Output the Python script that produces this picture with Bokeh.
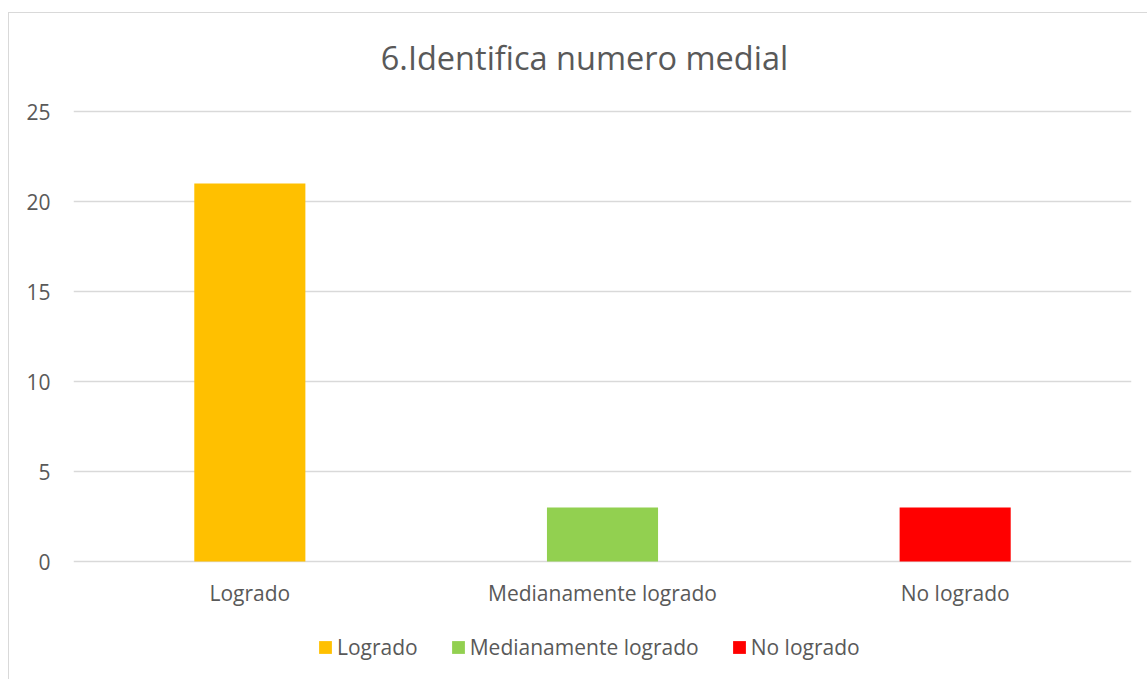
from bokeh.plotting import figure
from bokeh.models import Range1d, FixedTicker, ColumnDataSource, Legend, LegendItem
from bokeh.core.properties import value
from bokeh.embed import file_html
from bokeh.resources import INLINE

title_text = "6.Identifica numero medial"
categories = ["Logrado", "Medianamente logrado", "No logrado"]
values = [21, 3, 3]
colors = ["#FFC000", "#92D050", "#FF0000"]
y_ticks = [0, 5, 10, 15, 20, 25]

FONT = "Open Sans"
TXT = "#595959"
GRID = "#d9d9d9"

src = ColumnDataSource(dict(cat=categories, val=values, color=colors,
                            base=[0] * len(categories)))

PX_PER_UNIT = 18.0
TOP_SPACE = 98      # px of frame above the top tick (title area)
BOTTOM_SPACE = 118  # px of frame below the zero line (labels + legend)

y_max = max(y_ticks)
p = figure(
    x_range=categories,
    y_range=Range1d(-BOTTOM_SPACE / PX_PER_UNIT, y_max + TOP_SPACE / PX_PER_UNIT),
    frame_width=1058,
    frame_height=666,
    min_border_left=64,
    min_border_right=16,
    min_border_top=0,
    min_border_bottom=0,
    output_backend="svg",
    toolbar_location=None,
)
p.margin = (12, 0, 0, 8)
p.styles = {"border-left": "1px solid #d9d9d9", "border-top": "1px solid #d9d9d9"}

r = p.vbar(x="cat", top="val", width=0.315, color="color", line_color=None, source=src)

# category labels under the bars
p.text(x="cat", y="base", text="cat", source=src, y_offset=31,
       text_align="center", text_baseline="middle",
       text_font=value(FONT), text_font_size="21px", text_color=TXT)

# chart title above the plot area
p.text(x=[categories[1]], y=[y_max], text=[title_text], x_offset=-18, y_offset=-54,
       text_align="center", text_baseline="middle",
       text_font=value(FONT), text_font_size="32.5px", text_color=TXT)

p.outline_line_color = None
p.background_fill_color = "white"
p.border_fill_color = "white"

p.xgrid.grid_line_color = None
p.ygrid.grid_line_color = GRID
p.ygrid.grid_line_width = 1.5
p.yaxis.ticker = FixedTicker(ticks=y_ticks)
p.xaxis.visible = False

ax = p.yaxis[0]
ax.axis_line_color = None
ax.major_tick_line_color = None
ax.minor_tick_line_color = None
ax.major_label_text_font = FONT
ax.major_label_text_font_size = "21px"
ax.major_label_text_color = TXT
ax.major_label_standoff = 17

legend = Legend(
    items=[LegendItem(label=c, renderers=[r], index=i) for i, c in enumerate(categories)],
    orientation="horizontal",
    location=(244, 18),
    label_text_font=FONT,
    label_text_font_size="21px",
    label_text_color=TXT,
    glyph_width=16,
    glyph_height=16,
    label_standoff=4,
    spacing=32,
    margin=0,
    padding=8,
    border_line_color=None,
    background_fill_alpha=0,
)
p.add_layout(legend, "center")

open("out.html", "w").write(file_html(p, INLINE))
